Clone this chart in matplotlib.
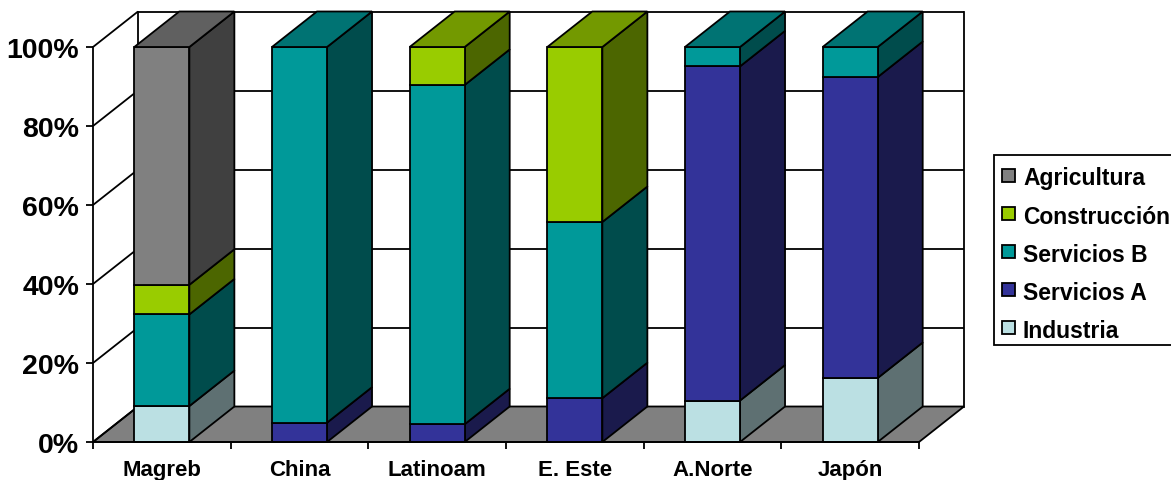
import matplotlib
matplotlib.use("Agg")
import matplotlib.pyplot as plt
from matplotlib.patches import Polygon, Rectangle
import numpy as np

plt.rcParams['font.family'] = ['Liberation Sans', 'DejaVu Sans']
plt.rcParams['font.weight'] = 'bold'

# ---- data ----
categories = ["Magreb", "China", "Latinoam", "E. Este", "A.Norte", "Japón"]
industria = [9.1, 0.0, 0.0, 0.0, 10.5, 16.2]
servicios_a = [0.0, 4.9, 4.5, 11.1, 84.6, 76.2]
servicios_b = [23.2, 95.1, 85.9, 44.6, 4.9, 7.6]
construccion = [7.5, 0.0, 9.6, 44.3, 0.0, 0.0]
agricultura = [60.2, 0.0, 0.0, 0.0, 0.0, 0.0]
yticks = [0, 20, 40, 60, 80, 100]
ytick_labels = ["0%", "20%", "40%", "60%", "80%", "100%"]

series_names = ["Industria", "Servicios A", "Servicios B", "Construcción", "Agricultura"]
series_values = [industria, servicios_a, servicios_b, construccion, agricultura]
# (front, side, top)
series_colors = [
    ("#BBE0E3", "#5E7072", "#8CA8AA"),
    ("#333399", "#1A1A4C", "#262673"),
    ("#009999", "#004C4C", "#007373"),
    ("#99CC00", "#4C6600", "#739900"),
    ("#808080", "#404040", "#606060"),
]

W, H = 1171, 481
fig = plt.figure(figsize=(W / 100, H / 100), dpi=100)
x0, x1, yb, yt = 93, 919, 443, 48
ax = fig.add_axes([x0 / W, (H - yb) / H, (x1 - x0) / W, (yb - yt) / H])
n = len(categories)
ax.set_xlim(-0.5, n - 0.5)
ax.set_ylim(0, 100)

# depth offset in data units (45 px right, 35.5 px up)
DX = 45 / ((x1 - x0) / n)
DY = 35.5 / ((yb - yt) / 100)
lw = 1.3
EC = "black"

# floor
ax.add_patch(Polygon([(-0.5, 0), (n - 0.5, 0), (n - 0.5 + DX, DY), (-0.5 + DX, DY)],
                     closed=True, facecolor="#808080", edgecolor=EC, lw=lw, zorder=1, clip_on=False))
# back wall + left wall gridlines
for v in yticks:
    ax.plot([-0.5, -0.5 + DX], [v, v + DY], color=EC, lw=lw, zorder=2, clip_on=False,
            solid_capstyle='butt')
    if v > 0:
        ax.plot([-0.5 + DX, n - 0.5 + DX], [v + DY, v + DY], color=EC, lw=lw, zorder=2,
                clip_on=False, solid_capstyle='butt')
ax.plot([-0.5 + DX, -0.5 + DX], [DY, 100 + DY], color=EC, lw=lw, zorder=2, clip_on=False)
ax.plot([n - 0.5 + DX, n - 0.5 + DX], [DY, 100 + DY], color=EC, lw=lw, zorder=2, clip_on=False)

# bars
bw = 0.4
for i in range(n):
    xl, xr = i - bw / 2, i + bw / 2
    bottom = 0.0
    segs = [(k, series_values[k][i]) for k in range(len(series_values)) if series_values[k][i] > 0]
    for j, (k, val) in enumerate(segs):
        front, side, top = series_colors[k]
        y0, y1 = bottom, bottom + val
        ax.add_patch(Polygon([(xr, y0), (xr + DX, y0 + DY), (xr + DX, y1 + DY), (xr, y1)],
                             closed=True, facecolor=side, edgecolor=EC, lw=lw, zorder=3,
                             clip_on=False, joinstyle='miter'))
        ax.add_patch(Polygon([(xl, y0), (xr, y0), (xr, y1), (xl, y1)],
                             closed=True, facecolor=front, edgecolor=EC, lw=lw, zorder=4,
                             clip_on=False, joinstyle='miter'))
        if j == len(segs) - 1:
            ax.add_patch(Polygon([(xl, y1), (xr, y1), (xr + DX, y1 + DY), (xl + DX, y1 + DY)],
                                 closed=True, facecolor=top, edgecolor=EC, lw=lw, zorder=4,
                                 clip_on=False, joinstyle='miter'))
        bottom = y1

# axes styling
for s in ["top", "right"]:
    ax.spines[s].set_visible(False)
ax.spines["left"].set_linewidth(lw)
ax.spines["bottom"].set_linewidth(lw)
ax.spines["left"].set_zorder(5)
ax.spines["bottom"].set_zorder(5)
ax.patch.set_alpha(0)
ax.set_yticks(yticks)
ax.set_yticklabels(ytick_labels, fontsize=20.5, fontweight='bold')
ax.tick_params(axis='y', length=5, width=lw, pad=5, direction='out')
ax.set_xticks(range(n))
ax.set_xticklabels(categories, fontsize=16, fontweight='bold')
ax.tick_params(axis='x', which='major', length=0, pad=12)
ax.set_xticks(np.arange(-0.5, n, 1.0), minor=True)
ax.tick_params(axis='x', which='minor', length=5, width=lw, direction='out')

# legend (manual, cut off at the right like the original)
lx, ltop, lbot = 994, 156, 346
fig.patches.append(Rectangle((lx / W, 1 - lbot / H), (W + 20 - lx) / W, (lbot - ltop) / H,
                             transform=fig.transFigure, facecolor="white", edgecolor=EC,
                             lw=lw, zorder=10))
ents = list(range(len(series_names)))[::-1]
for r, k in enumerate(ents):
    yc = 176.5 + r * 38
    fig.patches.append(Rectangle((1002 / W, 1 - (yc + 6.5) / H), 13 / W, 13 / H,
                                 transform=fig.transFigure, facecolor=series_colors[k][0],
                                 edgecolor=EC, lw=lw, zorder=11))
    fig.text(1023 / W, 1 - yc / H, series_names[k], fontsize=16.5, fontweight='bold',
             va='center_baseline', ha='left', zorder=12)

fig.savefig("out.png", dpi=100)
